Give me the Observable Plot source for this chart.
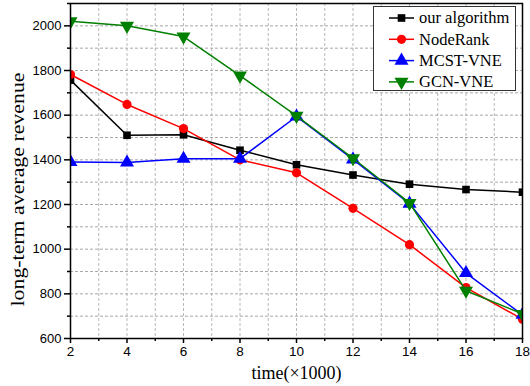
<!DOCTYPE html>
<html><head><meta charset="utf-8">
<script src="https://cdn.jsdelivr.net/npm/d3@7"></script>
<script src="https://cdn.jsdelivr.net/npm/@observablehq/plot@0.6"></script>
<style>body{margin:0;background:#fff}</style>
</head><body><div id="chart"></div>
<script>
const times = [2, 4, 6, 8, 10, 12, 14, 16, 18];
const ourAlgorithm = [1757, 1510, 1512, 1443, 1378, 1332, 1291, 1267, 1255];
const nodeRank = [1782, 1648, 1540, 1400, 1342, 1183, 1020, 828, 686];
const mcstVne = [1390, 1388, 1405, 1405, 1594, 1402, 1204, 893, 706];
const gcnVne = [2020, 2000, 1952, 1777, 1597, 1407, 1207, 814, 710];
const seriesNames = ["our algorithm", "NodeRank", "MCST-VNE", "GCN-VNE"];
const seriesColors = ["#000000", "#ff0000", "#0000ff", "#008000"];
const seriesSymbols = ["square", "circle", "triangle", "triangle"];
const seriesRotate = [0, 0, 0, 180];
const xMajor = [2, 4, 6, 8, 10, 12, 14, 16, 18];
const xMinor = [3, 5, 7, 9, 11, 13, 15, 17];
const yMajor = [600, 800, 1000, 1200, 1400, 1600, 1800, 2000];
const yMinor = [700, 900, 1100, 1300, 1500, 1700, 1900, 2100];
const xTitle = "time(×1000)";
const yTitle = "long-term average revenue";

const allSeries = [ourAlgorithm, nodeRank, mcstVne, gcnVne];
const data = allSeries.flatMap((vals, si) => vals.map((v, i) => ({x: times[i], y: v, s: si})));
const symR = [4.3, 4.6, 5.2, 5.2];

const marks = [
  Plot.gridX([...xMajor, ...xMinor], {stroke: "#b8b8b8", strokeOpacity: 1, strokeDasharray: "3,2"}),
  Plot.gridY([...yMajor, ...yMinor], {stroke: "#a8a8a8", strokeOpacity: 1, strokeDasharray: "3,2"}),
  Plot.axisX(xMajor, {tickSize: 5, tickPadding: 3, label: null, fontSize: 13.5, strokeWidth: 1.5, tickFormat: d3.format("d")}),
  Plot.axisX(xMinor, {tickSize: 3, text: null, label: null, strokeWidth: 1.5}),
  Plot.axisY(yMajor, {tickSize: 6, tickPadding: 3, label: null, fontSize: 13, strokeWidth: 1.5, tickFormat: d3.format("d")}),
  Plot.axisY(yMinor, {tickSize: 3, text: null, label: null, strokeWidth: 1.5}),
];
allSeries.forEach((vals, si) => {
  const d = data.filter(p => p.s === si);
  marks.push(Plot.line(d, {x: "x", y: "y", stroke: seriesColors[si], strokeWidth: 1.5, clip: true}));
  marks.push(Plot.dot(d, {x: "x", y: "y", fill: seriesColors[si], stroke: "none", clip: true,
    symbol: seriesSymbols[si], rotate: seriesRotate[si], r: symR[si]}));
});
marks.push(Plot.frame({stroke: "black", strokeWidth: 1.5}));
marks.push(Plot.text([xTitle], {frameAnchor: "bottom", dy: 40, fontFamily: "Liberation Serif", fontSize: 18, fill: "black", className: "xtitle"}));
marks.push(Plot.text([yTitle], {frameAnchor: "left", textAnchor: "middle", dx: -52.5, dy: 18.5, rotate: -90, fontFamily: "Liberation Serif", fontSize: 18, fill: "black", className: "ytitle"}));

const chart = Plot.plot({
  width: 530, height: 386,
  marginLeft: 70, marginRight: 8, marginTop: 3, marginBottom: 48,
  x: {domain: [2, 18]},
  y: {domain: [600, 2100]},
  style: {fontFamily: "Liberation Sans", fontSize: "13px", background: "white", color: "black"},
  marks
});
document.getElementById("chart").appendChild(chart);

const svg = d3.select(chart);
svg.selectAll(".ytitle text").attr("textLength", 234).attr("lengthAdjust", "spacingAndGlyphs");

// legend
const lg = svg.append("g").attr("text-anchor", "start");
lg.append("rect").attr("x", 373.5).attr("y", 6.5).attr("width", 142).attr("height", 84)
  .attr("fill", "white").attr("stroke", "#333").attr("stroke-width", 1);
seriesNames.forEach((name, i) => {
  const cy = 18 + i * 21.3;
  lg.append("line").attr("x1", 389).attr("x2", 414).attr("y1", cy).attr("y2", cy)
    .attr("stroke", seriesColors[i]).attr("stroke-width", 1.5);
  const sym = {square: d3.symbolSquare, circle: d3.symbolCircle, triangle: d3.symbolTriangle}[seriesSymbols[i]];
  const r = symR[i];
  lg.append("path").attr("d", d3.symbol(sym, r * r * Math.PI)())
    .attr("transform", `translate(401.5,${cy}) rotate(${seriesRotate[i]})`)
    .attr("fill", seriesColors[i]);
  lg.append("text").attr("x", 419).attr("y", cy).attr("dy", "0.32em")
    .attr("font-family", "Liberation Serif").attr("font-size", 16.5).attr("fill", "black").text(name);
});
</script></body></html>
